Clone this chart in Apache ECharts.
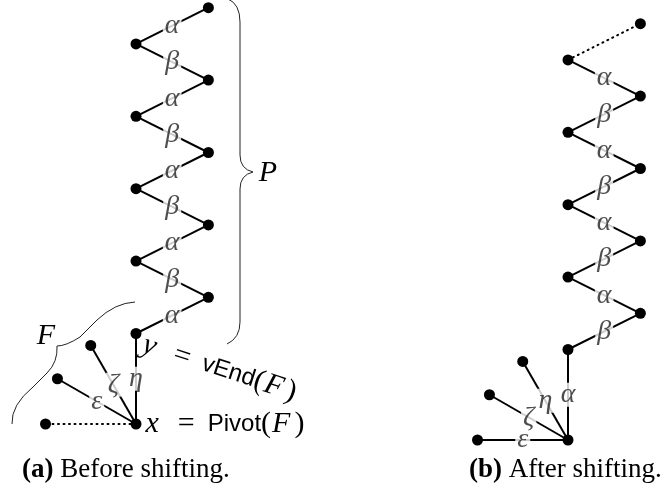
<!DOCTYPE html>
<html>
<head>
<meta charset="utf-8">
<script src="https://cdn.jsdelivr.net/npm/echarts@6/dist/echarts.min.js"></script>
<style>
  html, body { margin: 0; background: #fff; }
  #main { width: 662px; height: 498px; }
</style>
</head>
<body>
<div id="main"></div>
<script>
// node positions in tikz units, pivot at the origin, y up
// (a) before shifting
const aNodeX = [0, -2.5, -2.17, -1.25, 0, 2, 0, 2, 0, 2, 0, 2, 0, 2]
const aNodeY = [0, 0, 1.25, 2.17, 2.5, 3.5, 4.5, 5.5, 6.5, 7.5, 8.5, 9.5, 10.5, 11.5]
const aEdges = [[0, 1, ''], [0, 2, 'ε'], [0, 3, 'ζ'], [0, 4, 'η'], [4, 5, 'α'], [5, 6, 'β'], [6, 7, 'α'],
  [7, 8, 'β'], [8, 9, 'α'], [9, 10, 'β'], [10, 11, 'α'], [11, 12, 'β'], [12, 13, 'α']]
const aDotted = [0]

// (b) after shifting
const bNodeX = [0, -2.5, -2.17, -1.25, 0, 2, 0, 2, 0, 2, 0, 2, 0, 2]
const bNodeY = [0, 0, 1.25, 2.17, 2.5, 3.5, 4.5, 5.5, 6.5, 7.5, 8.5, 9.5, 10.5, 11.5]
const bEdges = [[0, 1, 'ε'], [0, 2, 'ζ'], [0, 3, 'η'], [0, 4, 'α'], [4, 5, 'β'], [5, 6, 'α'], [6, 7, 'β'],
  [7, 8, 'α'], [8, 9, 'β'], [9, 10, 'α'], [10, 11, 'β'], [11, 12, 'α'], [12, 13, '']]
const bDotted = [12]

const serif = 'Liberation Serif'
const sans = 'Liberation Sans'
const mathRich = {
  m: { fontFamily: serif, fontStyle: 'italic', fontSize: 30, color: '#000' },
  eq: { fontFamily: serif, fontSize: 30, color: '#000', padding: [0, 13, 0, 19] },
  r: { fontFamily: serif, fontSize: 30, color: '#000' },
  f: { fontFamily: serif, fontStyle: 'italic', fontSize: 30, color: '#000', padding: [0, 4, 0, 1] },
  s: { fontFamily: sans, fontSize: 24, color: '#000' }
}

function panel(nx, ny, edges, dotted, idx, nodeLabels) {
  const graph = {
    type: 'graph',
    layout: 'none',
    coordinateSystem: 'cartesian2d',
    xAxisIndex: idx,
    yAxisIndex: idx,
    symbol: 'circle',
    symbolSize: 11,
    itemStyle: { color: '#000' },
    lineStyle: { color: '#000', width: 2, opacity: 1 },
    label: { show: false },
    silent: true,
    z: 2,
    data: nx.map((x, i) => ({
      name: idx + '_' + i,
      value: [x, ny[i]],
      label: nodeLabels[i] || { show: false }
    })),
    links: edges.map((e, k) => ({
      source: e[0],
      target: e[1],
      lineStyle: dotted.includes(k) ? { type: [1, 4.5], cap: 'round' } : {}
    }))
  }
  // greek edge labels sit on the middle of each edge
  const labels = {
    type: 'scatter',
    xAxisIndex: idx,
    yAxisIndex: idx,
    symbolSize: 0,
    silent: true,
    z: 3,
    label: {
      show: true,
      position: 'inside',
      formatter: p => p.data.txt,
      fontFamily: serif,
      fontStyle: 'italic',
      fontSize: 28,
      lineHeight: 24,
      color: '#222',
      backgroundColor: '#fff',
      padding: [0, 2]
    },
    data: edges.filter(e => e[2]).map(e => ({
      value: [(nx[e[0]] + nx[e[1]]) / 2, (ny[e[0]] + ny[e[1]]) / 2],
      txt: e[2]
    }))
  }
  return [graph, labels]
}

const aNodeLabels = {
  0: {
    show: true, position: 'right', distance: 4,
    formatter: '{m|x}{eq|=}{s|Pivot}{r|(}{f|F}{r|)}', rich: mathRich
  },
  4: {
    show: true, position: 'right', distance: 2, rotate: -18, offset: [3, 10],
    formatter: '{m|y}{eq|=}{s|vEnd}{r|(}{f|F}{r|)}', rich: mathRich
  }
}

// brace outlines: each piece is [x1, y1, cpx, cpy, x2, y2] (quadratic) or [x1, y1, x2, y2] (straight)
function bracePieces(pieces) {
  return pieces.map(p => p.length === 6
    ? { type: 'bezierCurve', shape: { x1: p[0], y1: p[1], cpx1: p[2], cpy1: p[3], x2: p[4], y2: p[5] },
        style: { fill: null, stroke: '#222', lineWidth: 1 } }
    : { type: 'line', shape: { x1: p[0], y1: p[1], x2: p[2], y2: p[3] },
        style: { stroke: '#222', lineWidth: 1 } })
}

const chart = echarts.init(document.getElementById('main'))
chart.setOption({
  animation: false,
  grid: [
    { left: 9.3, top: 7.7, width: 289.6, height: 488.7 },
    { left: 459.4, top: 5.6, width: 199.1, height: 488.7 }
  ],
  xAxis: [
    { type: 'value', gridIndex: 0, min: -3.5, max: 4.5, show: false },
    { type: 'value', gridIndex: 1, min: -3, max: 2.5, show: false }
  ],
  yAxis: [
    { type: 'value', gridIndex: 0, min: -2, max: 11.5, show: false },
    { type: 'value', gridIndex: 1, min: -1.5, max: 12, show: false }
  ],
  series: [
    ...panel(aNodeX, aNodeY, aEdges, aDotted, 0, aNodeLabels),
    ...panel(bNodeX, bNodeY, bEdges, bDotted, 1, {})
  ],
  graphic: [
    ...bracePieces([
      [228, -1, 240, 4, 240, 22], [240, 22, 240, 155], [240, 155, 240, 169, 253, 172],
      [253, 172, 240, 175, 240, 189], [240, 189, 240, 322], [240, 322, 240, 338, 227, 344]
    ]),
    ...bracePieces([
      [12, 424, 11, 405, 33, 387], [33, 387, 47, 373], [47, 373, 58, 362, 57, 346],
      [57, 346, 66, 346, 80, 337], [80, 337, 97, 320], [97, 320, 115, 303, 135, 302]
    ]),
    {
      type: 'text', x: 268, y: 173,
      style: { text: 'P', fontFamily: serif, fontStyle: 'italic', fontSize: 30, fill: '#000',
        align: 'center', verticalAlign: 'middle' }
    },
    {
      type: 'text', x: 46, y: 336,
      style: { text: 'F', fontFamily: serif, fontStyle: 'italic', fontSize: 30, fill: '#000',
        align: 'center', verticalAlign: 'middle' }
    },
    {
      type: 'text', x: 22, y: 470,
      style: {
        text: '{b|(a)} Before shifting.',
        fontFamily: serif, fontSize: 27, fill: '#000', verticalAlign: 'middle',
        rich: { b: { fontFamily: serif, fontSize: 27, fontWeight: 'bold' } }
      }
    },
    {
      type: 'text', x: 469, y: 470,
      style: {
        text: '{b|(b)} After shifting.',
        fontFamily: serif, fontSize: 27, fill: '#000', verticalAlign: 'middle',
        rich: { b: { fontFamily: serif, fontSize: 27, fontWeight: 'bold' } }
      }
    }
  ]
})
</script>
</body>
</html>
